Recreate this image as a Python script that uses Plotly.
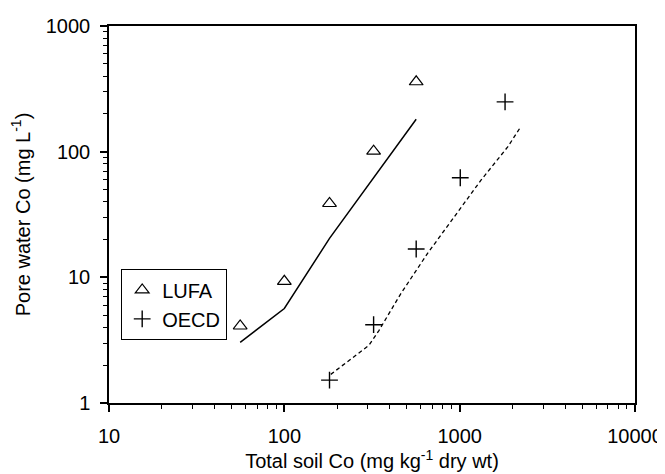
import plotly.graph_objects as go

# LUFA observations
lufa_x = [56, 100, 181, 323, 565]
lufa_y = [4.1, 9.3, 38.7, 101, 360]
# OECD observations
oecd_x = [181, 323, 565, 1008, 1815]
oecd_y = [1.52, 4.2, 16.8, 62, 249]
# LUFA fitted line
lufa_fit_x = [56, 100, 181, 323, 565]
lufa_fit_y = [3.04, 5.65, 20.4, 62, 181]
# OECD fitted line
oecd_fit_x = [184, 304, 347, 462, 656, 931, 1323, 1879, 2218]
oecd_fit_y = [1.69, 2.88, 3.79, 7.43, 15.5, 30.3, 59.3, 109, 156]

x_major = [10, 100, 1000, 10000]
y_major = [1, 10, 100, 1000]
x_minor = [m * d for d in [10, 100, 1000] for m in range(2, 10)]
y_minor = [m * d for d in [1, 10, 100] for m in range(2, 10)]

FONT = "Liberation Sans, Arial, sans-serif"

fig = go.Figure()
fig.add_trace(go.Scatter(x=lufa_fit_x, y=lufa_fit_y, mode="lines",
                         line=dict(color="black", width=1.5), showlegend=False))
fig.add_trace(go.Scatter(x=oecd_fit_x, y=oecd_fit_y, mode="lines",
                         line=dict(color="black", width=1.3, dash="4px,3px"), showlegend=False))
fig.add_trace(go.Scatter(x=lufa_x, y=lufa_y, mode="markers", name="LUFA",
                         marker=dict(symbol="triangle-up-open", size=12, color="black",
                                     line=dict(width=1.2, color="black"))))
fig.add_trace(go.Scatter(x=oecd_x, y=oecd_y, mode="markers", name="OECD",
                         marker=dict(symbol="cross-thin-open", size=12, color="black",
                                     line=dict(width=1.4, color="black"))))

axis_common = dict(
    type="log", showgrid=False, zeroline=False, showline=True, linecolor="black",
    linewidth=1.5, mirror=True, ticks="outside", ticklen=7, tickwidth=1.5,
    tickcolor="black", tickfont=dict(family=FONT, size=20, color="black"),
)

fig.update_xaxes(
    **axis_common, range=[1, 4], tickmode="array", tickvals=x_major,
    ticktext=[str(v) for v in x_major], ticklabelstandoff=7,
    minor=dict(tickmode="array", tickvals=x_minor, ticks="outside", ticklen=4,
               tickwidth=1.2, tickcolor="black", showgrid=False),
    title=dict(text="Total soil Co (mg kg<sup>-1</sup> dry wt)",
               font=dict(family=FONT, size=20, color="black"), standoff=5),
)
fig.update_yaxes(
    **axis_common, range=[0, 3], tickmode="array", tickvals=y_major,
    ticktext=[str(v) for v in y_major], ticklabelstandoff=6,
    minor=dict(tickmode="array", tickvals=y_minor, ticks="outside", ticklen=4,
               tickwidth=1.2, tickcolor="black", showgrid=False),
    title=dict(text="Pore water Co (mg L<sup>-1</sup>)",
               font=dict(family=FONT, size=20, color="black"), standoff=10),
)

# page body has an 8px margin, so the figure is shrunk by that amount
fig.update_layout(
    width=657, height=466,
    margin=dict(l=101, r=30, t=18, b=71, autoexpand=False),
    plot_bgcolor="white", paper_bgcolor="white",
    font=dict(family=FONT, size=20, color="black"),
    legend=dict(x=0.0228, y=0.355, xanchor="left", yanchor="top",
                bordercolor="black", borderwidth=1.2, bgcolor="white",
                font=dict(family=FONT, size=20, color="black"),
                itemwidth=30, tracegroupgap=0),
)

fig.write_html("out.html")
